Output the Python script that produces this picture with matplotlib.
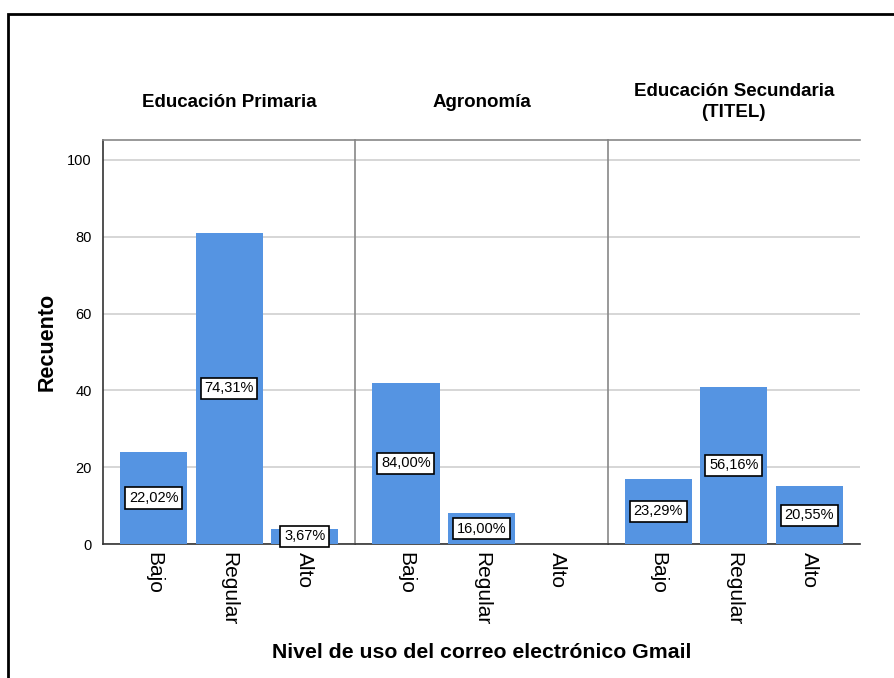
import matplotlib.pyplot as plt
from matplotlib.patches import Rectangle

plt.rcParams["font.family"] = ["Liberation Sans", "DejaVu Sans"]

# datos
carreras = ["Educación Primaria", "Agronomía", "Educación Secundaria\n(TITEL)"]
niveles = ["Bajo", "Regular", "Alto"]
primaria = [24, 81, 4]
agronomia = [42, 8, 0]
secundaria = [17, 41, 15]
conteos = [primaria, agronomia, secundaria]

color_barra = "#5594E2"

fig = plt.figure(figsize=(8.94, 6.78), dpi=100)

# marco exterior
fig.patches.append(Rectangle((8 / 894, -0.1), 1.2, 1 - 14 / 678 + 0.1,
                             transform=fig.transFigure, fill=False,
                             edgecolor="black", linewidth=2))

izq = 103 / 894
ancho = 252.3 / 894
abajo = 1 - 544 / 678
alto = (544 - 140) / 678

for i, (nombre, valores) in enumerate(zip(carreras, conteos)):
    ax = fig.add_axes([izq + i * ancho, abajo, ancho, alto])
    x = range(len(niveles))
    ax.bar(x, valores, width=0.89, color=color_barra, zorder=3)
    total = sum(valores)
    for xi, v in zip(x, valores):
        if v == 0:
            continue
        pct = f"{100 * v / total:.2f}%".replace(".", ",")
        ax.text(xi, v / 2, pct, ha="center", va="center", fontsize=10.5,
                zorder=5,
                bbox=dict(boxstyle="square,pad=0.25", facecolor="white",
                          edgecolor="black", linewidth=1.2))
    ax.set_xlim(-0.67, 2.67)
    ax.set_ylim(0, 105.2)
    ax.set_yticks([0, 20, 40, 60, 80, 100])
    ax.yaxis.grid(True, color="#d0d0d0", linewidth=1.2, zorder=0)
    ax.set_axisbelow(True)
    ax.set_xticks(list(x))
    ax.set_xticklabels(niveles, rotation=270, fontsize=15)
    ax.tick_params(axis="x", length=0, pad=6)
    ax.spines["right"].set_visible(False)
    ax.spines["top"].set_color("#888888")
    ax.spines["top"].set_linewidth(1.2)
    ax.spines["bottom"].set_color("#333333")
    ax.spines["bottom"].set_linewidth(1.2)
    if i == 0:
        ax.spines["left"].set_color("#333333")
        ax.spines["left"].set_linewidth(1.2)
        ax.tick_params(axis="y", length=0, pad=8, labelsize=10.5)
        ax.set_ylabel("Recuento", fontsize=15.5, fontweight="bold", labelpad=7)
    else:
        ax.spines["left"].set_color("#888888")
        ax.spines["left"].set_linewidth(1.2)
        ax.tick_params(axis="y", length=0, labelleft=False)
    # títulos de panel centrados verticalmente
    ax.text(0.5, 1.094, nombre, transform=ax.transAxes, ha="center",
            va="center", fontsize=13.5, fontweight="bold", linespacing=1.25)

fig.text(482 / 894, 1 - 652 / 678, "Nivel de uso del correo electrónico Gmail",
         ha="center", va="center", fontsize=15.3, fontweight="bold")

plt.savefig("out.png", dpi=100)
plt.close("all")
